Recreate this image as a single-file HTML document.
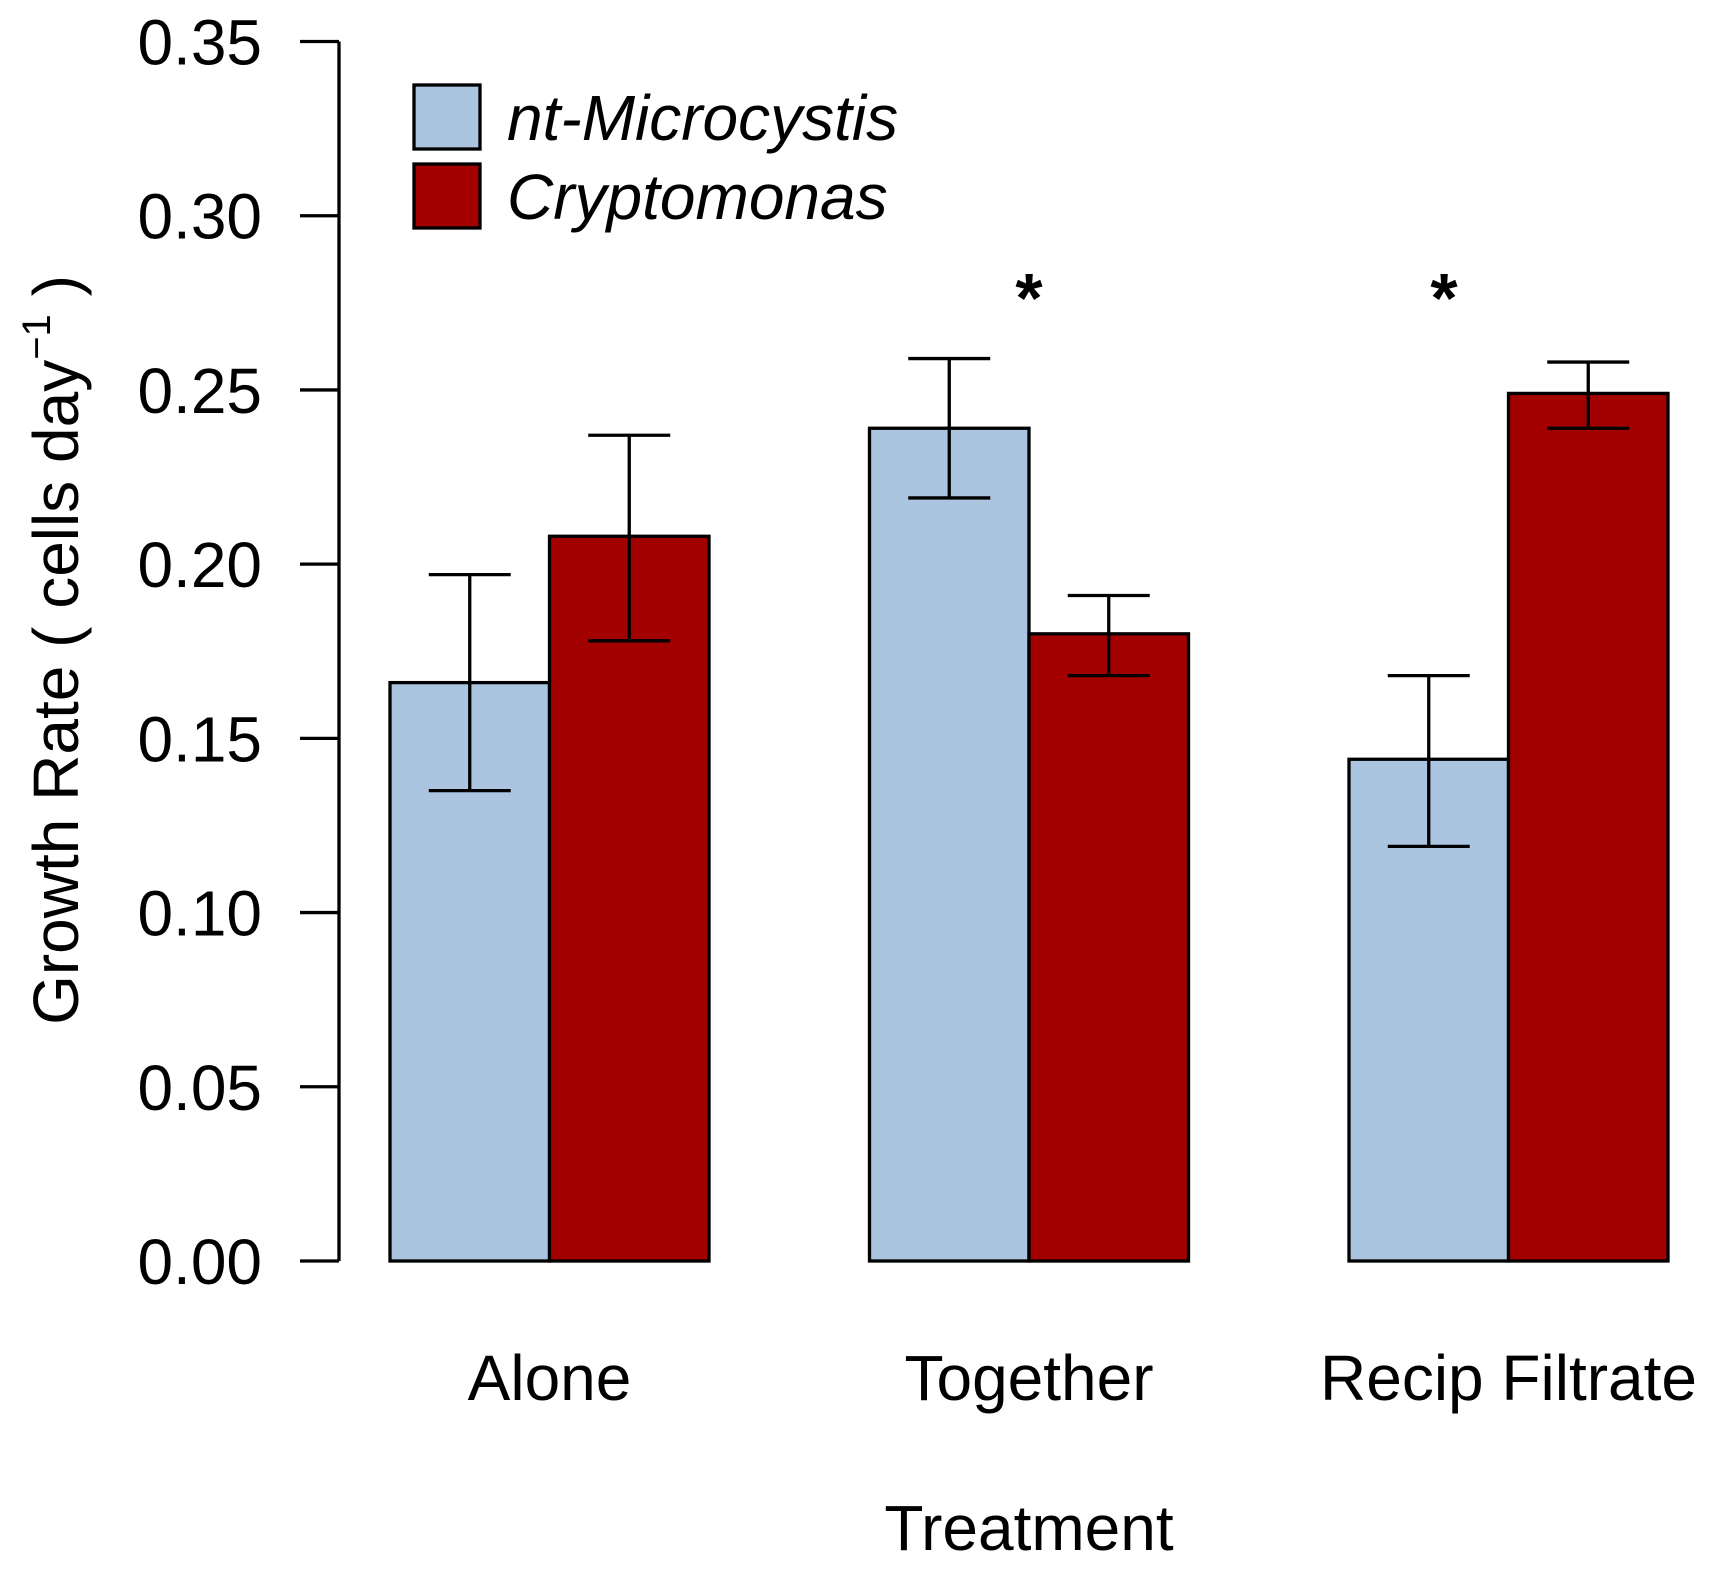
<!DOCTYPE html>
<html><head><meta charset="utf-8"><style>
body{margin:0;background:#fff;}
svg{display:block;font-family:"Liberation Sans",Arial,sans-serif;}
</style></head><body>
<svg id="chart" width="1709" height="1572" viewBox="0 0 1709 1572" xmlns="http://www.w3.org/2000/svg"></svg>
<script>
const categories=["Alone","Together","Recip Filtrate"];
const microValues=[0.166,0.239,0.144];
const microLow=[0.135,0.219,0.119];
const microHigh=[0.197,0.259,0.168];
const cryptoValues=[0.208,0.180,0.249];
const cryptoLow=[0.178,0.168,0.239];
const cryptoHigh=[0.237,0.191,0.258];
const yTicks=[0,0.05,0.10,0.15,0.20,0.25,0.30,0.35];
const yTickLabels=["0.00","0.05","0.10","0.15","0.20","0.25","0.30","0.35"];
const significant=[false,true,true];

const NS="http://www.w3.org/2000/svg";
const svg=document.getElementById('chart');
const y0=1261,y1=41.5;
function y(v){return y0-(v/0.35)*(y0-y1);}
const groupStart=390,groupStep=479.5,barW=159.5;
const SW=3.3;
function xBar(i,s){return groupStart+i*groupStep+s*barW;}
function mk(tag,attrs,parent){const e=document.createElementNS(NS,tag);for(const k in attrs)e.setAttribute(k,attrs[k]);(parent||svg).appendChild(e);return e;}

const ax=mk('line',{x1:339,x2:339,y1:y(0),y2:y(0.35),stroke:'#000','stroke-width':SW});


yTicks.forEach((t,i)=>{
  const l=mk('line',{x1:300,x2:339,y1:y(t),y2:y(t),stroke:'#000','stroke-width':SW});
  
  
  const tx=mk('text',{x:262,y:y(t)+23,'text-anchor':'end','font-size':64});
  tx.textContent=yTickLabels[i];
  
  
});
const yt=mk('text',{transform:'translate(78,650) rotate(-90)','text-anchor':'middle','font-size':64});
yt.innerHTML='Growth Rate ( cells day<tspan font-size="40" dy="-28">−1</tspan><tspan dy="28"> )</tspan>';



function drawBar(i,s,val,lo,hi,color,name){
  const x=xBar(i,s);
  const r=mk('rect',{x:x,y:y(val),width:barW,height:y(0)-y(val),fill:color,stroke:'#000','stroke-width':SW});
  
  
  const cx=x+barW/2;
  const g=mk('g',{stroke:'#000','stroke-width':SW});
  
  
  mk('line',{x1:cx,x2:cx,y1:y(lo),y2:y(hi)},g);
  mk('line',{x1:cx-41,x2:cx+41,y1:y(lo),y2:y(lo)},g);
  mk('line',{x1:cx-41,x2:cx+41,y1:y(hi),y2:y(hi)},g);
}
const starX=[0,1029,1444];
categories.forEach((c,i)=>{
  drawBar(i,0,microValues[i],microLow[i],microHigh[i],'#abc5e0','bar-microcystis-'+i);
  drawBar(i,1,cryptoValues[i],cryptoLow[i],cryptoHigh[i],'#a30000','bar-cryptomonas-'+i);
  const t=mk('text',{x:xBar(i,1),y:1400,'text-anchor':'middle','font-size':64});
  t.textContent=c;
  
  
  if(significant[i]){
    const a=mk('text',{x:starX[i],y:322,'text-anchor':'middle','font-size':70,'font-weight':'bold'});
    a.textContent='*';
    
    
  }
});
const xt=mk('text',{x:1029,y:1550,'text-anchor':'middle','font-size':64});
xt.textContent='Treatment';



const leg=[['nt-Microcystis','#abc5e0',85],['Cryptomonas','#a30000',164]];
leg.forEach(l=>{
  const g=mk('g',{});
  
  
  mk('rect',{x:414,y:l[2],width:66,height:64,fill:l[1],stroke:'#000','stroke-width':SW},g);
  const t=mk('text',{x:507,y:l[2]+55,'font-size':64,'font-style':'italic'},g);
  t.textContent=l[0];
});
</script>
</body></html>
